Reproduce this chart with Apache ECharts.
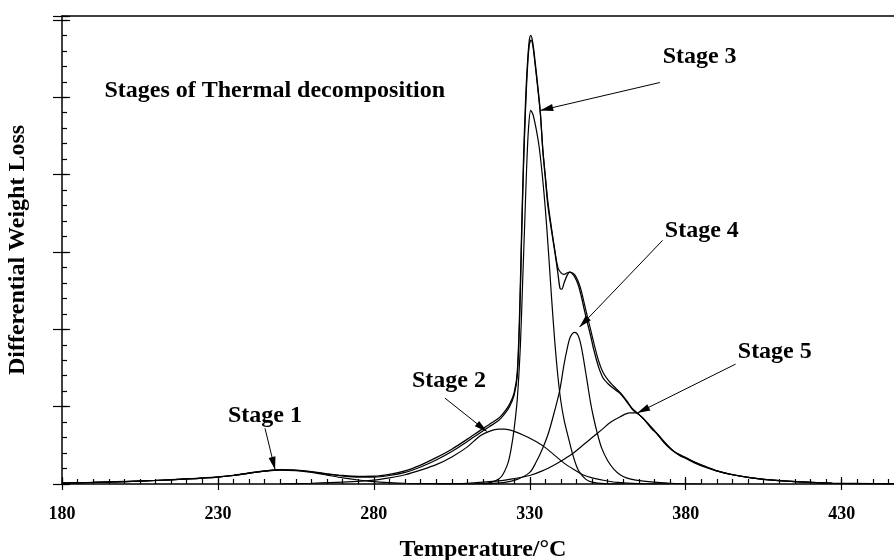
<!DOCTYPE html>
<html><head><meta charset="utf-8">
<script src="https://cdn.jsdelivr.net/npm/echarts@6/dist/echarts.min.js"></script>
<style>html,body{margin:0;padding:0;background:#fff}#c{width:894px;height:560px}</style>
</head><body><div id="c"></div>
<script>
// ---- data (Temperature °C, differential weight loss, arbitrary units) ----
const xTickLabels = [180, 230, 280, 330, 380, 430];

const envelopeExp = [[180,0.015],[190,0.022],[200,0.032],[210,0.047],[220,0.067],[230,0.092],[235,0.112],[240,0.142],[245,0.168],[250,0.185],[255,0.18],[260,0.16],[265,0.132],[270,0.11],[275,0.098],[280,0.1],[285,0.125],[290,0.17],[295,0.245],[300,0.34],[305,0.45],[310,0.58],[314,0.69],[317,0.77],[320,0.85],[322,0.94],[323.5,1.03],[325,1.18],[326,1.45],[326.8,2.3],[327.4,3.3],[328,4.2],[328.6,4.9],[329.2,5.4],[329.8,5.72],[330.3,5.8],[330.9,5.72],[331.6,5.5],[332.6,5.13],[333.4,4.8],[334.2,4.3],[335,3.95],[335.8,3.6],[337,3.27],[338,3.01],[339,2.73],[339.7,2.53],[340.3,2.52],[341,2.6],[342,2.7],[342.8,2.74],[343.6,2.72],[344.5,2.67],[345.5,2.58],[346.5,2.43],[347.5,2.25],[348.5,2.08],[349.5,1.92],[350.5,1.74],[352,1.52],[353.5,1.37],[355,1.3],[357,1.23],[359,1.17],[361,1.07],[363,0.96],[365,0.9],[367,0.82],[369,0.72],[371,0.64],[373,0.54],[375,0.46],[377,0.4],[380,0.34],[383,0.28],[386,0.23],[390,0.17],[395,0.12],[400,0.085],[405,0.06],[411,0.04],[420,0.02],[427,0.01],[440,0.004],[450,0.002]];

const envelopeFit = [[180,0.012],[190,0.02],[200,0.03],[210,0.045],[220,0.065],[230,0.09],[235,0.11],[240,0.14],[245,0.166],[250,0.182],[255,0.178],[260,0.158],[265,0.128],[270,0.104],[275,0.09],[280,0.09],[285,0.11],[290,0.15],[295,0.22],[300,0.31],[305,0.42],[310,0.55],[314,0.66],[317,0.74],[320,0.82],[322,0.91],[323.5,1.0],[325,1.15],[326,1.4],[326.8,2.2],[327.4,3.2],[328,4.1],[328.6,4.8],[329.2,5.33],[329.8,5.66],[330.4,5.74],[331,5.66],[331.6,5.46],[332.6,5.1],[333.4,4.78],[334.2,4.32],[335,3.98],[335.8,3.65],[337,3.3],[338,3.03],[339,2.8],[340,2.73],[341,2.71],[342,2.73],[342.8,2.74],[343.6,2.73],[344.5,2.7],[345.5,2.62],[346.5,2.5],[347.5,2.33],[348.5,2.16],[349.5,2.0],[350.5,1.83],[352,1.6],[353.5,1.44],[355,1.35],[357,1.26],[359,1.18],[361,1.08],[363,0.97],[365,0.9],[367,0.82],[369,0.72],[371,0.64],[373,0.54],[375,0.46],[377,0.4],[380,0.34],[383,0.28],[386,0.23],[390,0.17],[395,0.12],[400,0.085],[405,0.06],[411,0.04],[420,0.02],[427,0.01],[440,0.004],[450,0.002]];

const stage1 = [[180,0.01],[190,0.02],[200,0.03],[210,0.045],[220,0.065],[230,0.09],[235,0.11],[240,0.14],[245,0.165],[250,0.18],[255,0.172],[260,0.15],[265,0.115],[270,0.08],[275,0.052],[280,0.03],[285,0.018],[290,0.01],[300,0.004],[310,0]];

const stage2 = [[250,0],[260,0.01],[270,0.025],[280,0.05],[285,0.08],[290,0.12],[295,0.18],[300,0.25],[305,0.35],[310,0.48],[314,0.62],[317,0.68],[320,0.71],[322,0.71],[325,0.68],[328,0.63],[332,0.55],[335,0.47],[338,0.37],[341,0.27],[344,0.19],[347,0.12],[350,0.08],[354,0.045],[358,0.02],[365,0.005],[375,0]];

const stage3 = [[310,0],[316,0.01],[319,0.04],[321,0.1],[323,0.27],[324,0.45],[325,0.72],[326,1.1],[327,1.8],[327.7,2.6],[328.4,3.4],[329,4.1],[329.6,4.6],[330.3,4.83],[331,4.78],[332,4.6],[333,4.36],[334,4.0],[335,3.55],[336,3.0],[337,2.4],[338,1.85],[339,1.4],[340,1.06],[341,0.83],[342,0.66],[343,0.5],[344,0.35],[345,0.23],[346,0.15],[348,0.06],[350,0.025],[354,0.005],[360,0]];

const stage4 = [[315,0],[322,0.02],[326,0.06],[330,0.15],[332,0.28],[334,0.45],[336,0.66],[338,0.95],[339.6,1.21],[341,1.55],[342,1.75],[343,1.9],[344.4,1.96],[345.5,1.92],[346.5,1.78],[347.5,1.55],[348.5,1.3],[349.5,1.05],[350.5,0.85],[351.5,0.68],[353,0.47],[355,0.3],[357,0.19],[359,0.12],[361,0.08],[364,0.05],[368,0.03],[375,0.01],[385,0]];

const stage5 = [[300,0],[310,0.01],[320,0.04],[325,0.07],[330,0.11],[334,0.17],[338,0.25],[341,0.32],[344,0.4],[347,0.5],[350,0.6],[353,0.7],[356,0.8],[359,0.87],[362,0.92],[364,0.92],[366,0.86],[368,0.78],[370,0.69],[372,0.6],[374,0.51],[376,0.43],[378,0.37],[380,0.33],[383,0.27],[386,0.22],[390,0.17],[395,0.12],[400,0.085],[405,0.06],[411,0.04],[420,0.02],[427,0.01],[440,0.003],[450,0]];

// annotation arrows (data coordinates: [temperature, value])
const arrowStarts = [[245.1,0.72],[302.8,1.11],[371.7,5.19],[372.6,3.15],[396.0,1.55]];
const arrowEnds   = [[248.3,0.19],[316.2,0.68],[333.5,4.83],[346.0,2.03],[364.6,0.92]];
const stageLabels = ['Stage 1','Stage 2','Stage 3','Stage 4','Stage 5'];
const stageLabelAnchors = [[233.2,0.88],[292.2,1.33],[372.6,5.52],[373.3,3.27],[396.7,1.71]];
const titleText = 'Stages of Thermal decomposition';
const titleAnchor = [193.6,5.08];

// ---- chart ----
const FONT = '"Liberation Serif", "Times New Roman", serif';
const chart = echarts.init(document.getElementById('c'));

function curve(name, data, w) {
  return { type: 'line', name, data, smooth: 0.3, symbol: 'none', silent: true,
           lineStyle: { color: '#000', width: w }, animation: false, z: 3 };
}
const axisBase = { type: 'value', splitLine: { show: false }, axisLabel: { show: false } };
const tickStyle = { color: '#000', width: 1.2 };

const series = [
  curve('exp', envelopeExp, 1.3),
  curve('fit', envelopeFit, 1.2),
  curve('Stage 1', stage1, 1.2),
  curve('Stage 2', stage2, 1.2),
  curve('Stage 3', stage3, 1.2),
  curve('Stage 4', stage4, 1.2),
  curve('Stage 5', stage5, 1.2)
];
series[2].markLine = {
  silent: true, animation: false,
  symbol: ['none', 'triangle'], symbolSize: [7, 13], symbolOffset: [[0, 0], [0, 6]],
  lineStyle: { color: '#000', width: 1, type: 'solid' },
  label: { show: false },
  data: arrowStarts.map((s, i) => [{ coord: s }, { coord: arrowEnds[i] }])
};

chart.setOption({
  animation: false,
  backgroundColor: '#fff',
  grid: { left: 62, right: -10, top: 16, bottom: 76, containLabel: false, outerBoundsMode: 'none' },
  xAxis: [
    Object.assign({}, axisBase, {
      min: 180, max: 450, interval: 50, position: 'bottom',
      axisLine: { show: true, onZero: false, lineStyle: { color: '#000', width: 1.5 } },
      axisTick: { show: true, inside: true, length: 7, lineStyle: tickStyle },
      axisLabel: { show: true, color: '#000', fontFamily: FONT, fontWeight: 'bold', fontSize: 18, margin: 21,
                   showMaxLabel: false, formatter: v => (xTickLabels.indexOf(v) >= 0 ? String(v) : '') },
      name: 'Temperature/°C', nameLocation: 'middle', nameGap: 54,
      nameTextStyle: { color: '#000', fontFamily: FONT, fontWeight: 'bold', fontSize: 24 }
    }),
    Object.assign({}, axisBase, {
      min: 180, max: 450, interval: 50, position: 'bottom',
      axisLine: { show: false, onZero: false },
      axisTick: { show: true, inside: false, length: 6, lineStyle: tickStyle }
    }),
    Object.assign({}, axisBase, {
      min: 180, max: 450, interval: 5, position: 'bottom',
      axisLine: { show: false, onZero: false },
      axisTick: { show: true, inside: true, length: 5, lineStyle: tickStyle }
    }),
    Object.assign({}, axisBase, {
      min: 180, max: 450, position: 'top',
      axisLine: { show: true, onZero: false, lineStyle: { color: '#000', width: 1.5 } },
      axisTick: { show: false }
    })
  ],
  yAxis: [
    Object.assign({}, axisBase, {
      min: 0, max: 6.05, interval: 1, position: 'left',
      axisLine: { show: true, onZero: false, lineStyle: { color: '#000', width: 1.5 } },
      axisTick: { show: true, inside: true, length: 8, lineStyle: tickStyle },
      name: 'Differential Weight Loss', nameLocation: 'middle', nameGap: 32,
      nameTextStyle: { color: '#000', fontFamily: FONT, fontWeight: 'bold', fontSize: 24 }
    }),
    Object.assign({}, axisBase, {
      min: 0, max: 6.05, interval: 1, position: 'left',
      axisLine: { show: false, onZero: false },
      axisTick: { show: true, inside: false, length: 9, lineStyle: tickStyle }
    }),
    Object.assign({}, axisBase, {
      min: 0, max: 6.05, interval: 0.2, position: 'left',
      axisLine: { show: false, onZero: false },
      axisTick: { show: true, inside: true, length: 5, lineStyle: tickStyle }
    })
  ],
  series
});

function textEl(text, at) {
  const p = chart.convertToPixel({ gridIndex: 0 }, at);
  return { type: 'text', x: p[0], y: p[1], silent: true, z: 10,
           style: { text, fill: '#000', font: 'bold 24px ' + FONT, fontFamily: FONT, fontSize: 24, fontWeight: 'bold',
                    align: 'left', verticalAlign: 'middle', textAlign: 'left', textVerticalAlign: 'middle' } };
}
const graphics = stageLabels.map((t, i) => textEl(t, stageLabelAnchors[i]));
graphics.push(textEl(titleText, titleAnchor));
chart.setOption({ graphic: graphics });
</script>
</body></html>
